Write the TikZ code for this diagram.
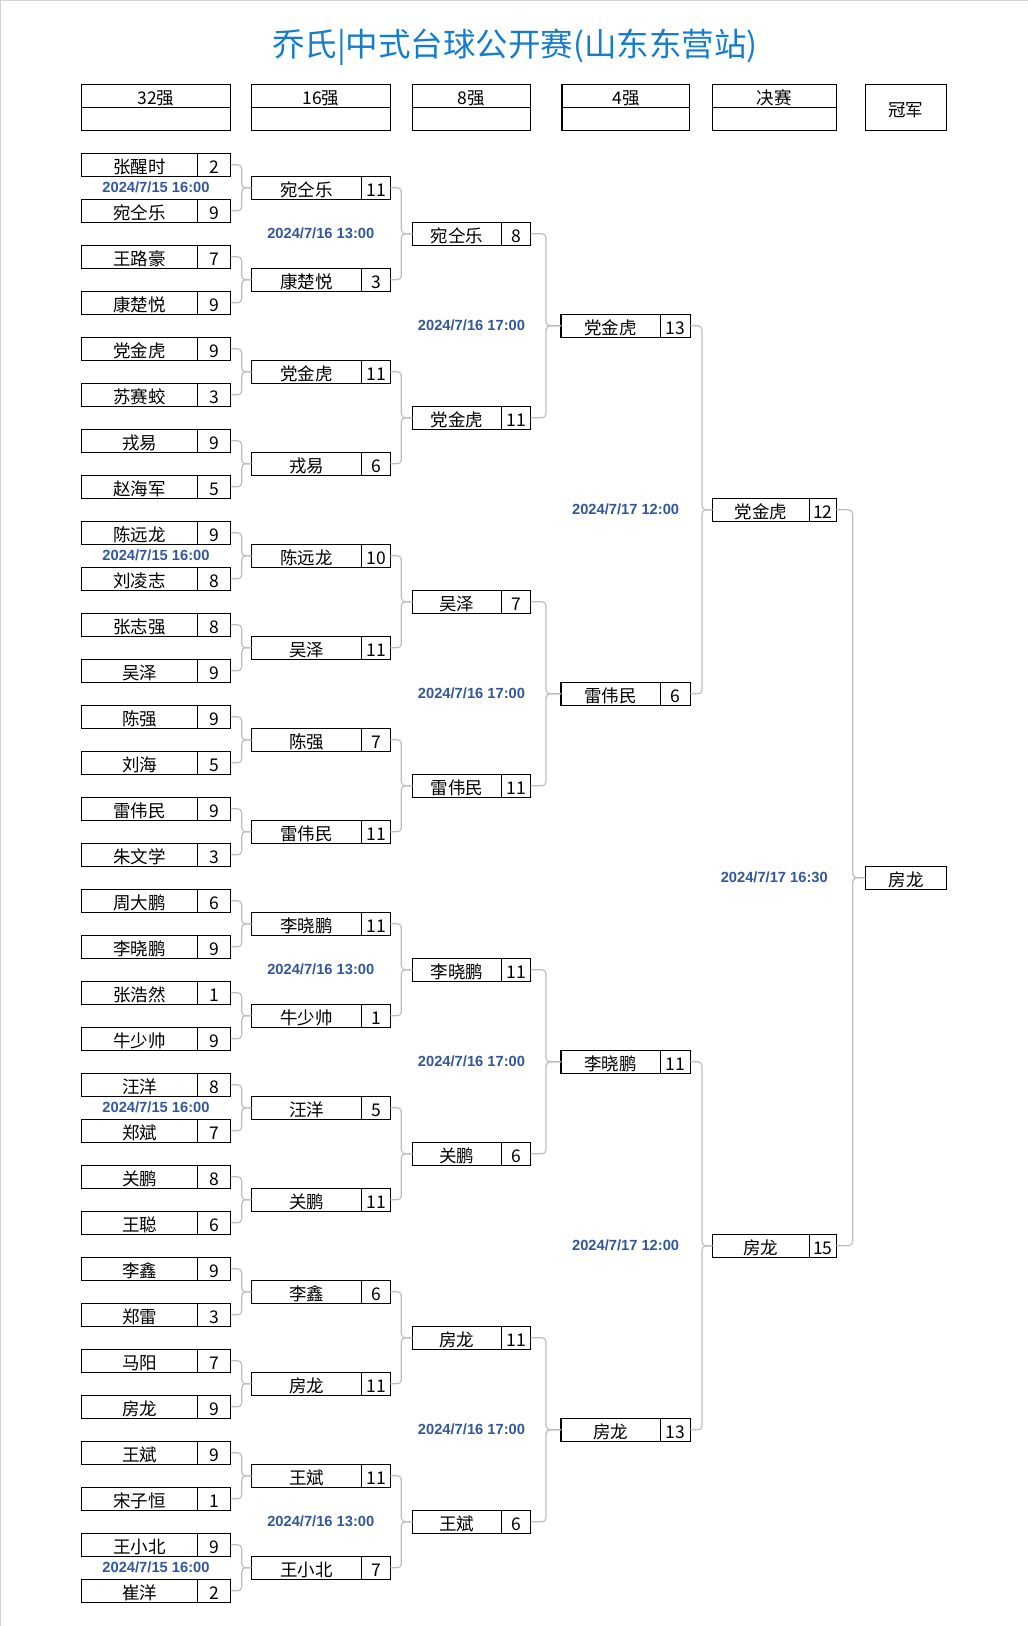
\documentclass[tikz,border=0pt]{standalone}
\usepackage{fontspec}
\setmainfont{Noto Sans CJK SC}
\newfontfamily\datefont{Liberation Sans}
\usetikzlibrary{calc}
\definecolor{titleblue}{RGB}{22,125,205}
\definecolor{dateblue}{RGB}{50,88,156}
\definecolor{linkgray}{RGB}{190,190,190}
\newcommand\namesize{\fontsize{17.5}{17.5}\selectfont}

\begin{document}
\begin{tikzpicture}[x=1pt,y=-1pt,
  namebox/.style={draw, line width=1.1pt, minimum height=23pt, inner sep=0pt, outer sep=0pt, text height=17.5pt, text depth=0pt, anchor=west, font=\namesize},
  headbox/.style={namebox, anchor=north west},
  link/.style={linkgray, line width=1.2pt, rounded corners=4pt},
  datelabel/.style={dateblue, font=\datefont\bfseries\fontsize{14.7}{14.7}\selectfont}]
\useasboundingbox (0,0) rectangle (1028,1626);
\draw [linkgray!70] (0.5,1626) -- (0.5,0.5) -- (1028,0.5);

% title
\node [titleblue, font=\fontsize{32.5}{32.5}\selectfont] (title) at (515,47) {乔氏|中式台球公开赛(山东东营站)};

% headers
\foreach \hx/\hw/\hlabel [count=\h] in {81.3/148.9/32强, 251.1/139.7/16强, 412.5/118/8强, 562/127.8/4强, 712.8/123.3/决赛} {
  \node [headbox, minimum width=\hw pt] (hd\h) at (\hx,84.3) {\hlabel};
  \node [headbox, minimum width=\hw pt] (hdb\h) at (hd\h.south west) {};
}
\node [headbox, minimum width=80.6pt, minimum height=46pt] (hd6) at (865.6,84.3) {冠军};

% 32
\foreach \nm/\sc [count=\i from 0] in {张醒时/2, 宛仝乐/9, 王路豪/7, 康楚悦/9, 党金虎/9, 苏赛蛟/3, 戎易/9, 赵海军/5,
  陈远龙/9, 刘凌志/8, 张志强/8, 吴泽/9, 陈强/9, 刘海/5, 雷伟民/9, 朱文学/3,
  周大鹏/6, 李晓鹏/9, 张浩然/1, 牛少帅/9, 汪洋/8, 郑斌/7, 关鹏/8, 王聪/6,
  李鑫/9, 郑雷/3, 马阳/7, 房龙/9, 王斌/9, 宋子恒/1, 王小北/9, 崔洋/2} {
  \node [namebox, minimum width=116.4pt] (p\i) at (81.3,{164.8+46*\i}) {\nm};
  \node [namebox, minimum width=33pt] (ps\i) at (p\i.east) {\sc};
}
% 16
\foreach \nm/\sc [count=\i from 0] in {宛仝乐/11, 康楚悦/3, 党金虎/11, 戎易/6, 陈远龙/10, 吴泽/11, 陈强/7, 雷伟民/11,
  李晓鹏/11, 牛少帅/1, 汪洋/5, 关鹏/11, 李鑫/6, 房龙/11, 王斌/11, 王小北/7} {
  \node [namebox, minimum width=110.4pt] (q\i) at (251.3,{187.8+92*\i}) {\nm};
  \node [namebox, minimum width=28.6pt] (qs\i) at (q\i.east) {\sc};
}
% 8
\foreach \nm/\sc [count=\i from 0] in {宛仝乐/8, 党金虎/11, 吴泽/7, 雷伟民/11, 李晓鹏/11, 关鹏/6, 房龙/11, 王斌/6} {
  \node [namebox, minimum width=89pt] (r\i) at (412.3,{233.8+184*\i}) {\nm};
  \node [namebox, minimum width=29.4pt] (rs\i) at (r\i.east) {\sc};
}
% 4
\foreach \nm/\sc [count=\i from 0] in {党金虎/13, 雷伟民/6, 李晓鹏/11, 房龙/13} {
  \node [namebox, minimum width=99.3pt] (s\i) at (561,{325.8+368*\i}) {\nm};
  \node [namebox, minimum width=30pt] (ss\i) at (s\i.east) {\sc};
}
% final
\foreach \nm/\sc [count=\i from 0] in {党金虎/12, 房龙/15} {
  \node [namebox, minimum width=97pt] (f\i) at (712.3,{509.8+736*\i}) {\nm};
  \node [namebox, minimum width=27pt] (fs\i) at (f\i.east) {\sc};
}
\node [namebox, minimum width=81.4pt] (champ) at (865.3,877.8) {房龙};

% links
\foreach \k in {0,...,15} {
  \pgfmathtruncatemacro\ka{2*\k}
  \pgfmathtruncatemacro\kb{2*\k+1}
  \draw [link] (ps\ka.east) -| ([xshift=-9.6pt]q\k.west) -- (q\k.west);
  \draw [link] (ps\kb.east) -| ([xshift=-9.6pt]q\k.west) -- (q\k.west);
}
\foreach \k in {0,...,7} {
  \pgfmathtruncatemacro\ka{2*\k}
  \pgfmathtruncatemacro\kb{2*\k+1}
  \draw [link] (qs\ka.east) -| ([xshift=-11pt]r\k.west) -- (r\k.west);
  \draw [link] (qs\kb.east) -| ([xshift=-11pt]r\k.west) -- (r\k.west);
}
\foreach \k in {0,...,3} {
  \pgfmathtruncatemacro\ka{2*\k}
  \pgfmathtruncatemacro\kb{2*\k+1}
  \draw [link] (rs\ka.east) -| ([xshift=-15pt]s\k.west) -- (s\k.west);
  \draw [link] (rs\kb.east) -| ([xshift=-15pt]s\k.west) -- (s\k.west);
}
\foreach \k in {0,1} {
  \pgfmathtruncatemacro\ka{2*\k}
  \pgfmathtruncatemacro\kb{2*\k+1}
  \draw [link] (ss\ka.east) -| ([xshift=-10.3pt]f\k.west) -- (f\k.west);
  \draw [link] (ss\kb.east) -| ([xshift=-10.3pt]f\k.west) -- (f\k.west);
}
\draw [link] (fs0.east) -| ([xshift=-12.6pt]champ.west) -- (champ.west);
\draw [link] (fs1.east) -| ([xshift=-12.6pt]champ.west) -- (champ.west);

% dates
\foreach \m in {0,8,20,30} {
  \pgfmathtruncatemacro\mb{\m+1}
  \node [datelabel] (da\m) at ($(p\m.south west)!0.5!(ps\mb.north east)$) {2024/7/15 16:00};
}
\foreach \m in {0,8,14} {
  \pgfmathtruncatemacro\mb{\m+1}
  \node [datelabel] (db\m) at ($(q\m.west)!0.5!(qs\mb.east)$) {2024/7/16 13:00};
}
\foreach \m in {0,2,4,6} {
  \pgfmathtruncatemacro\mb{\m+1}
  \node [datelabel] (dc\m) at ($(r\m.west)!0.5!(rs\mb.east)$) {2024/7/16 17:00};
}
\foreach \m in {0,2} {
  \pgfmathtruncatemacro\mb{\m+1}
  \node [datelabel] (dd\m) at ($(s\m.west)!0.5!(ss\mb.east)$) {2024/7/17 12:00};
}
\node [datelabel] (de0) at ($(f0.west)!0.5!(fs1.east)$) {2024/7/17 16:30};
\end{tikzpicture}
\end{document}
